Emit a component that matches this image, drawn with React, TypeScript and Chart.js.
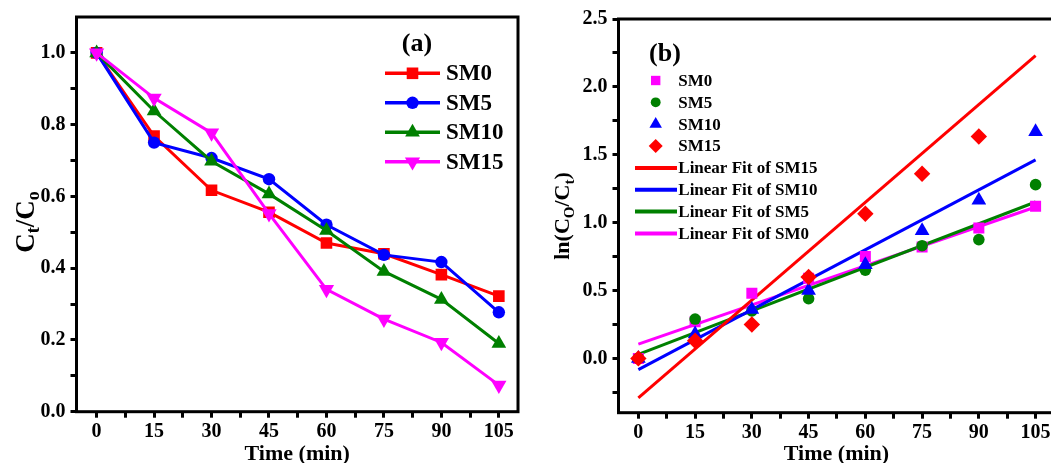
import React, { useEffect, useRef } from 'react';
import { Chart, registerables } from 'chart.js';
import { drawPoint } from 'chart.js/helpers';

Chart.register(...registerables);

// ---------- data ----------
const timeMin = [0, 15, 30, 45, 60, 75, 90, 105];
const seriesNames = ['SM0', 'SM5', 'SM10', 'SM15'];

// panel (a): Ct/C0
const ctSM0 = [1.0, 0.768, 0.617, 0.556, 0.47, 0.44, 0.382, 0.322];
const ctSM5 = [1.0, 0.75, 0.707, 0.648, 0.521, 0.437, 0.417, 0.277];
const ctSM10 = [1.0, 0.838, 0.698, 0.607, 0.505, 0.391, 0.313, 0.19];
const ctSM15 = [1.0, 0.874, 0.777, 0.552, 0.341, 0.258, 0.193, 0.074];

// panel (b): ln(C0/Ct)
const lnSM0 = [0.0, 0.27, 0.48, 0.59, 0.75, 0.82, 0.96, 1.12];
const lnSM5 = [0.0, 0.29, 0.35, 0.44, 0.65, 0.83, 0.875, 1.28];
const lnSM10 = [0.0, 0.18, 0.36, 0.5, 0.69, 0.94, 1.165, 1.67];
const lnSM15 = [0.0, 0.13, 0.25, 0.6, 1.065, 1.36, 1.635, null];

// linear fits (endpoints)
const fitX = [0, 105];
const fitSM15 = [-0.29, 2.23];
const fitSM10 = [-0.083, 1.462];
const fitSM5 = [0.03, 1.152];
const fitSM0 = [0.105, 1.115];

// ticks
const xTickValues = [0, 7.5, 15, 22.5, 30, 37.5, 45, 52.5, 60, 67.5, 75, 82.5, 90, 97.5, 105];
const yTickValuesA = [0, 0.1, 0.2, 0.3, 0.4, 0.5, 0.6, 0.7, 0.8, 0.9, 1.0];
const yTickValuesB = [-0.25, 0, 0.25, 0.5, 0.75, 1.0, 1.25, 1.5, 1.75, 2.0, 2.25, 2.5];

// ---------- styles ----------
const RED = '#ff0000';
const BLUE = '#0000ff';
const GREEN = '#008000';
const MAGENTA = '#ff00ff';
const FONT = '"Liberation Serif", "Times New Roman", serif';

const pts = (xs: number[], ys: (number | null)[]) =>
  xs.map((x, i) => ({ x, y: ys[i] as number })).filter((p) => p.y !== null && p.y !== undefined);

type Part = { t: string; sub?: boolean };

function drawRich(ctx: CanvasRenderingContext2D, parts: Part[], size: number, x: number, y: number, rotate: boolean, align: 'center' | 'left' = 'center') {
  const mainF = `bold ${size}px ${FONT}`;
  const subF = `bold ${Math.round(size * 0.66)}px ${FONT}`;
  ctx.save();
  ctx.translate(x, y);
  if (rotate) ctx.rotate(-Math.PI / 2);
  ctx.fillStyle = '#000';
  ctx.textBaseline = 'alphabetic';
  ctx.textAlign = 'left';
  let total = 0;
  const widths = parts.map((p) => {
    ctx.font = p.sub ? subF : mainF;
    const w = ctx.measureText(p.t).width;
    total += w;
    return w;
  });
  let cx = align === 'center' ? -total / 2 : 0;
  parts.forEach((p, i) => {
    ctx.font = p.sub ? subF : mainF;
    ctx.fillText(p.t, cx, p.sub ? size * 0.22 : 0);
    cx += widths[i];
  });
  ctx.restore();
}

type LegendItem = { label: string; color: string; style?: string; radius?: number; rotation?: number; line?: boolean };

function drawLegend(
  ctx: CanvasRenderingContext2D,
  items: LegendItem[],
  opts: { lineX0: number; lineX1: number; markX: number; textX: number; y0: number; dy: number; size: number; lineW: number }
) {
  ctx.save();
  items.forEach((it, i) => {
    const y = opts.y0 + i * opts.dy;
    if (it.line) {
      ctx.strokeStyle = it.color;
      ctx.lineWidth = opts.lineW;
      ctx.beginPath();
      ctx.moveTo(opts.lineX0, y);
      ctx.lineTo(opts.lineX1, y);
      ctx.stroke();
    }
    if (it.style) {
      ctx.fillStyle = it.color;
      ctx.strokeStyle = it.color;
      drawPoint(ctx, { pointStyle: it.style as any, radius: it.radius || 6, rotation: it.rotation || 0, borderWidth: 0 } as any, opts.markX, y);
    }
    ctx.fillStyle = '#000';
    ctx.font = `bold ${opts.size}px ${FONT}`;
    ctx.textAlign = 'left';
    ctx.textBaseline = 'middle';
    ctx.fillText(it.label, opts.textX, y + 1);
  });
  ctx.restore();
}

const boxPlugin = {
  id: 'box',
  afterDraw(chart: any) {
    const { ctx, chartArea: a } = chart;
    ctx.save();
    ctx.strokeStyle = '#000';
    ctx.lineWidth = 3;
    ctx.strokeRect(a.left, a.top, a.right - a.left, a.bottom - a.top);
    ctx.restore();
  },
};

const tickFont = { family: FONT, size: 20, weight: 'bold' as const };

function xScale(height: number) {
  return {
    type: 'linear' as const,
    min: -5.25,
    max: 110,
    afterBuildTicks: (s: any) => {
      s.ticks = xTickValues.map((v) => ({ value: v }));
    },
    afterFit: (s: any) => {
      s.height = height;
    },
    ticks: {
      autoSkip: false,
      maxRotation: 0,
      padding: 2,
      color: '#000',
      font: tickFont,
      callback: (v: any) => (Number(v) % 15 === 0 ? String(v) : ''),
    },
    grid: { display: true, drawOnChartArea: false, drawTicks: true, tickLength: 6, tickWidth: 3, tickColor: '#000' },
    border: { display: false },
  };
}

function yScale(min: number, max: number, ticks: number[], major: number, width: number) {
  return {
    type: 'linear' as const,
    min,
    max,
    afterBuildTicks: (s: any) => {
      s.ticks = ticks.map((v) => ({ value: v }));
    },
    afterFit: (s: any) => {
      s.width = width;
    },
    ticks: {
      autoSkip: false,
      padding: 5,
      color: '#000',
      font: tickFont,
      callback: (v: any) => {
        const n = Number(v);
        const r = Math.round(n / major);
        return Math.abs(n - r * major) < 1e-6 ? n.toFixed(1) : '';
      },
    },
    grid: { display: true, drawOnChartArea: false, drawTicks: true, tickLength: 6, tickWidth: 3, tickColor: '#000' },
    border: { display: false },
  };
}

function configA(): any {
  const colorsA = [RED, BLUE, GREEN, MAGENTA];
  const stylesA = ['rect', 'circle', 'triangle', 'triangle'];
  const radiiA = [8.2, 6.2, 8.5, 8.8];
  const rotA = [0, 0, 0, 180];
  const dataA = [ctSM0, ctSM5, ctSM10, ctSM15];
  const legendItems: LegendItem[] = seriesNames.map((n, i) => ({
    label: n, color: colorsA[i], style: stylesA[i], radius: radiiA[i], rotation: rotA[i], line: true,
  }));
  return {
    type: 'scatter',
    data: {
      datasets: dataA.map((d, i) => ({
        label: seriesNames[i],
        data: pts(timeMin, d),
        showLine: true,
        borderColor: colorsA[i],
        backgroundColor: colorsA[i],
        borderWidth: 3,
        pointStyle: stylesA[i],
        pointRadius: radiiA[i],
        pointRotation: rotA[i],
        pointBorderWidth: 0,
        pointBackgroundColor: colorsA[i],
        order: 4 - i,
      })),
    },
    options: {
      responsive: false,
      animation: false,
      layout: { padding: { top: 12.7, right: 12, left: 0, bottom: 0 } },
      plugins: { legend: { display: false }, tooltip: { enabled: false } },
      scales: {
        x: xScale(51.3),
        y: yScale(0, 1.1, yTickValuesA, 0.2, 76.5),
      },
    },
    plugins: [
      boxPlugin,
      {
        id: 'textA',
        afterDraw(chart: any) {
          const { ctx, chartArea: a } = chart;
          drawRich(ctx, [{ t: 'Time (min)' }], 22, (a.left + a.right) / 2, 460, false);
          drawRich(ctx, [{ t: 'C' }, { t: 't', sub: true }, { t: '/C' }, { t: 'o', sub: true }], 27, 33.5, 222, true);
          ctx.save();
          ctx.font = `bold 26px ${FONT}`;
          ctx.fillStyle = '#000';
          ctx.textAlign = 'center';
          ctx.textBaseline = 'alphabetic';
          ctx.fillText('(a)', 417, 51);
          ctx.restore();
          drawLegend(ctx, legendItems, { lineX0: 385, lineX1: 440, markX: 412.5, textX: 446, y0: 73.3, dy: 29.5, size: 23, lineW: 3.5 });
        },
      },
    ],
  };
}

function configB(): any {
  const scatterData = [lnSM0, lnSM5, lnSM10, lnSM15];
  const colorsB = [MAGENTA, GREEN, BLUE, RED];
  const stylesB = ['rect', 'circle', 'triangle', 'rectRot'];
  const radiiB = [7.8, 5.8, 8.5, 8.2];
  const fitData = [fitSM15, fitSM10, fitSM5, fitSM0];
  const fitNames = ['SM15', 'SM10', 'SM5', 'SM0'];
  const fitColors = [RED, BLUE, GREEN, MAGENTA];
  const legendItems: LegendItem[] = [
    ...seriesNames.map((n, i) => ({ label: n, color: colorsB[i], style: stylesB[i], radius: radiiB[i] * 0.85 })),
    ...fitNames.map((n, i) => ({ label: 'Linear Fit of ' + n, color: fitColors[i], line: true })),
  ];
  return {
    type: 'scatter',
    data: {
      datasets: [
        ...scatterData.map((d, i) => ({
          label: seriesNames[i],
          data: pts(timeMin, d),
          showLine: false,
          backgroundColor: colorsB[i],
          borderColor: colorsB[i],
          pointStyle: stylesB[i],
          pointRadius: radiiB[i],
          pointBorderWidth: 0,
          order: 4 - i,
        })),
        ...fitData.map((d, i) => ({
          label: 'Linear Fit of ' + fitNames[i],
          data: pts(fitX, d),
          showLine: true,
          borderColor: fitColors[i],
          backgroundColor: fitColors[i],
          borderWidth: 3,
          pointRadius: 0,
          order: 5 + i,
        })),
      ],
    },
    options: {
      responsive: false,
      animation: false,
      layout: { padding: { top: 19, right: 15.5, left: 0, bottom: 0 } },
      plugins: { legend: { display: false }, tooltip: { enabled: false } },
      scales: {
        x: xScale(50.3),
        y: yScale(-0.4, 2.5, yTickValuesB, 0.5, 88.5),
      },
    },
    plugins: [
      boxPlugin,
      {
        id: 'textB',
        afterDraw(chart: any) {
          const { ctx, chartArea: a } = chart;
          drawRich(ctx, [{ t: 'Time (min)' }], 22, (a.left + a.right) / 2 - 530 + 530, 460, false);
          drawRich(ctx, [{ t: 'ln(C' }, { t: 'O', sub: true }, { t: '/C' }, { t: 't', sub: true }, { t: ')' }], 22, 39, 216, true);
          ctx.save();
          ctx.font = `bold 26px ${FONT}`;
          ctx.fillStyle = '#000';
          ctx.textAlign = 'center';
          ctx.textBaseline = 'alphabetic';
          ctx.fillText('(b)', 135, 61);
          ctx.restore();
          drawLegend(ctx, legendItems, { lineX0: 105, lineX1: 147, markX: 125.7, textX: 148.3, y0: 80.5, dy: 21.85, size: 17, lineW: 4 });
        },
      },
    ],
  };
}

export default function App() {
  const refA = useRef<HTMLCanvasElement>(null);
  const refB = useRef<HTMLCanvasElement>(null);
  useEffect(() => {
    const a = new Chart(refA.current as HTMLCanvasElement, configA());
    const b = new Chart(refB.current as HTMLCanvasElement, configB());
    return () => {
      a.destroy();
      b.destroy();
    };
  }, []);
  return (
    <div style={{ position: 'absolute', left: 0, top: 0, width: 1051, height: 463, overflow: 'hidden', background: '#fff' }}>
      <canvas ref={refA} width={530} height={463} style={{ position: 'absolute', left: 0, top: 0, width: 530, height: 463 }} />
      <canvas ref={refB} width={540} height={463} style={{ position: 'absolute', left: 530, top: 0, width: 540, height: 463 }} />
    </div>
  );
}
